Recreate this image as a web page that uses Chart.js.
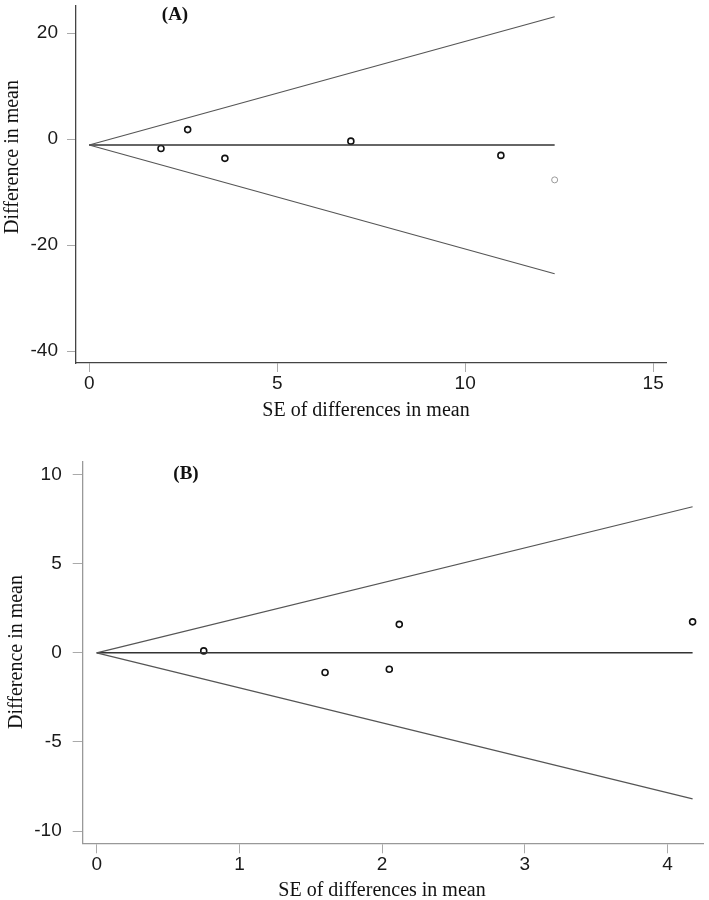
<!DOCTYPE html>
<html>
<head>
<meta charset="utf-8">
<script src="https://cdn.jsdelivr.net/npm/chart.js@4.4.0/dist/chart.umd.min.js"></script>
<style>
    body { margin: 0; background: #fff; }
    canvas { display: block; }
</style>
</head>
<body>
<canvas id="chartA" width="709" height="440"></canvas>
<canvas id="chartB" width="709" height="460"></canvas>
<script>
// Panel A
const seA = [1.91, 2.62, 3.61, 6.96, 10.95];
const diffA = [-1.76, 1.8, -3.63, -0.38, -3.07];
const seGreyA = [12.38];
const diffGreyA = [-7.69];
const funnelSeA = [0, 12.38];
const meanA = [-1.1, -1.1];
const upperA = [-1.1, 23.1];
const lowerA = [-1.1, -25.4];
const xTicksA = [0, 5, 10, 15];
const yTicksA = [-40, -20, 0, 20];

// Panel B
const seB = [0.75, 1.6, 2.05, 2.12, 4.175];
const diffB = [0.11, -1.1, -0.92, 1.6, 1.74];
const funnelSeB = [0, 4.175];
const meanB = [0, 0];
const upperB = [0, 8.2];
const lowerB = [0, -8.2];
const xTicksB = [0, 1, 2, 3, 4];
const yTicksB = [-10, -5, 0, 5, 10];

const pts = (xs, ys) => xs.map((x, i) => ({ x: x, y: ys[i] }));

const tickFont = { family: "'Liberation Sans', Arial, sans-serif", size: 19 };
const serif = "'Liberation Serif', 'Times New Roman', serif";

// draws the panel letter and axis titles at fixed spots
const textPlugin = {
    id: "texts",
    afterDraw(chart, args, opts) {
        const ctx = chart.ctx;
        opts.items.forEach((t) => {
            ctx.save();
            ctx.font = t.font;
            ctx.fillStyle = "#111";
            ctx.textAlign = "center";
            ctx.textBaseline = "middle";
            ctx.translate(t.x, t.y);
            if (t.rotate) ctx.rotate(-Math.PI / 2);
            ctx.fillText(t.text, 0, 0);
            ctx.restore();
        });
    },
};

const lineSet = (data, color, width) => ({
    type: "line",
    data: data,
    borderColor: color,
    borderWidth: width,
    pointRadius: 0,
    fill: false,
    tension: 0,
});

function makeChart(id, p) {
    const ctx = document.getElementById(id).getContext("2d");
    return new Chart(ctx, {
        type: "scatter",
        data: {
            datasets: [
                lineSet(pts(p.funnelSe, p.upper), "#555", 1.2),
                lineSet(pts(p.funnelSe, p.lower), "#555", 1.2),
                lineSet(pts(p.funnelSe, p.mean), "#333", 1.5),
                {
                    data: pts(p.se, p.diff),
                    pointRadius: 3,
                    pointBorderWidth: 1.6,
                    pointBorderColor: "#111",
                    pointBackgroundColor: "#fff",
                },
                {
                    data: pts(p.seGrey, p.diffGrey),
                    pointRadius: 3,
                    pointBorderWidth: 1,
                    pointBorderColor: "#999",
                    pointBackgroundColor: "#fff",
                },
            ],
        },
        options: {
            responsive: false,
            animation: false,
            layout: { padding: p.padding },
            plugins: {
                legend: { display: false },
                tooltip: { enabled: false },
                texts: { items: p.texts },
            },
            scales: {
                x: {
                    type: "linear",
                    min: p.xMin,
                    max: p.xMax,
                    afterFit: (s) => {
                        s.height = p.xHeight;
                        s.paddingLeft = 0;
                        s.paddingRight = 0;
                    },
                    afterBuildTicks: (s) => { s.ticks = p.xTicks.map((v) => ({ value: v })); },
                    grid: { drawOnChartArea: false, drawTicks: true, tickLength: p.tickLen, color: "#aaa" },
                    border: { display: true, color: p.axisColor, width: 1.3 },
                    ticks: { font: tickFont, color: "#1a1a1a", padding: 0, maxRotation: 0 },
                },
                y: {
                    type: "linear",
                    min: p.yMin,
                    max: p.yMax,
                    afterFit: (s) => {
                        s.width = p.yWidth;
                        s.paddingTop = 0;
                        s.paddingBottom = 0;
                    },
                    afterBuildTicks: (s) => { s.ticks = p.yTicks.map((v) => ({ value: v })); },
                    grid: { drawOnChartArea: false, drawTicks: true, tickLength: p.tickLen, color: "#aaa" },
                    border: { display: true, color: p.axisColor, width: 1.3 },
                    ticks: { font: tickFont, color: "#1a1a1a", padding: p.yPad },
                },
            },
        },
        plugins: [textPlugin],
    });
}

makeChart("chartA", {
    se: seA, diff: diffA, seGrey: seGreyA, diffGrey: diffGreyA,
    funnelSe: funnelSeA, mean: meanA, upper: upperA, lower: lowerA,
    xTicks: xTicksA, yTicks: yTicksA,
    xMin: -0.35, xMax: 15.36, yMin: -42.25, yMax: 25.2,
    padding: { top: 3, right: 42.3, left: 0, bottom: 0 },
    xHeight: 77, yWidth: 76, tickLen: 9, yPad: 9, axisColor: "#444",
    texts: [
        { text: "(A)", x: 175, y: 15, font: "bold 19px " + serif },
        { text: "Difference in mean", x: 13, y: 157, rotate: true, font: "20px " + serif },
        { text: "SE of differences in mean", x: 366, y: 411, font: "20px " + serif },
    ],
});

makeChart("chartB", {
    se: seB, diff: diffB, seGrey: [], diffGrey: [],
    funnelSe: funnelSeB, mean: meanB, upper: upperB, lower: lowerB,
    xTicks: xTicksB, yTicks: yTicksB,
    xMin: -0.098, xMax: 4.25, yMin: -10.69, yMax: 10.73,
    padding: { top: 21.7, right: 5.7, left: 0, bottom: 0 },
    xHeight: 56.7, yWidth: 82.7, tickLen: 10, yPad: 11, axisColor: "#999",
    texts: [
        { text: "(B)", x: 186, y: 34, font: "bold 19px " + serif },
        { text: "Difference in mean", x: 17, y: 212, rotate: true, font: "20px " + serif },
        { text: "SE of differences in mean", x: 382, y: 451, font: "20px " + serif },
    ],
});
</script>
</body>
</html>
